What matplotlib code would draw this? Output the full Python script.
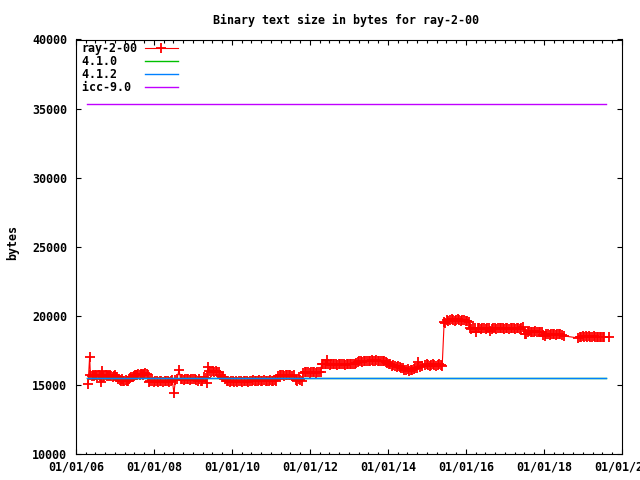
import matplotlib
matplotlib.use("Agg")
import matplotlib.pyplot as plt
import matplotlib.dates as mdates
from datetime import datetime

# commit dates (decimal years) and binary text size for ray-2-00
years = [
    2006.31, 2006.35,
    2006.37, 2006.40, 2006.43, 2006.46, 2006.49, 2006.52, 2006.55, 2006.58, 2006.61, 2006.63, 2006.65, 2006.67,
    2006.70, 2006.73, 2006.76, 2006.79, 2006.82, 2006.85, 2006.88, 2006.91, 2006.94, 2006.97, 2007.00, 2007.03, 2007.06,
    2007.09, 2007.12, 2007.15, 2007.18, 2007.21, 2007.24, 2007.27, 2007.30, 2007.33, 2007.36,
    2007.39, 2007.42, 2007.45, 2007.48, 2007.51, 2007.54, 2007.57, 2007.60, 2007.63, 2007.66, 2007.69, 2007.72,
    2007.75, 2007.78, 2007.81, 2007.84,
    2007.87, 2007.91, 2007.95, 2007.99, 2008.03, 2008.07, 2008.11, 2008.15, 2008.19, 2008.23, 2008.27, 2008.31,
    2008.35, 2008.39, 2008.43, 2008.47,
    2008.51, 2008.55, 2008.59, 2008.64, 2008.68, 2008.72, 2008.76, 2008.80, 2008.84, 2008.88, 2008.92, 2008.96,
    2009.00, 2009.04, 2009.08, 2009.12, 2009.16, 2009.20, 2009.24,
    2009.28, 2009.32, 2009.35,
    2009.39, 2009.42, 2009.46, 2009.50, 2009.54, 2009.58, 2009.62, 2009.66,
    2009.70, 2009.74, 2009.78, 2009.82, 2009.86,
    2009.90, 2009.94, 2009.98, 2010.02, 2010.06, 2010.10, 2010.14, 2010.18, 2010.22, 2010.26, 2010.30, 2010.34,
    2010.38, 2010.42, 2010.46,
    2010.50, 2010.54, 2010.58, 2010.62, 2010.66, 2010.70, 2010.74, 2010.78, 2010.82, 2010.86, 2010.90, 2010.94,
    2010.98, 2011.02, 2011.06, 2011.10, 2011.14,
    2011.18, 2011.22, 2011.26, 2011.30, 2011.34, 2011.38, 2011.42, 2011.46, 2011.50, 2011.54, 2011.58,
    2011.63, 2011.67, 2011.71, 2011.75, 2011.79,
    2011.83, 2011.87, 2011.91, 2011.95, 2011.99, 2012.03, 2012.07, 2012.11, 2012.15, 2012.19, 2012.23, 2012.27,
    2012.30, 2012.34, 2012.38, 2012.42, 2012.44, 2012.46, 2012.50, 2012.54, 2012.58, 2012.62, 2012.66, 2012.70,
    2012.74, 2012.78, 2012.82, 2012.86, 2012.90, 2012.94, 2012.98, 2013.02, 2013.06, 2013.10, 2013.14,
    2013.18, 2013.22, 2013.26, 2013.30, 2013.34, 2013.38, 2013.42, 2013.46, 2013.50, 2013.54, 2013.58, 2013.62,
    2013.66, 2013.70, 2013.74, 2013.78, 2013.82, 2013.86, 2013.90, 2013.94, 2013.98, 2014.02,
    2014.06, 2014.10, 2014.14, 2014.18, 2014.22, 2014.26, 2014.30, 2014.34,
    2014.38, 2014.42, 2014.46, 2014.50, 2014.54, 2014.58, 2014.62, 2014.66, 2014.70, 2014.74,
    2014.77, 2014.81, 2014.88, 2014.95, 2014.99, 2015.03, 2015.07, 2015.11, 2015.15, 2015.19, 2015.23, 2015.27,
    2015.31, 2015.35, 2015.39,
    2015.44, 2015.47, 2015.51, 2015.55, 2015.59, 2015.63, 2015.67, 2015.71, 2015.75, 2015.79, 2015.83, 2015.87,
    2015.91, 2015.95, 2015.99, 2016.03, 2016.07,
    2016.10, 2016.14, 2016.18, 2016.22, 2016.26, 2016.30, 2016.34, 2016.38, 2016.42, 2016.46, 2016.50, 2016.54,
    2016.58, 2016.62, 2016.66, 2016.70, 2016.74, 2016.78, 2016.82, 2016.86, 2016.90, 2016.94, 2016.98, 2017.02,
    2017.06, 2017.10, 2017.14, 2017.18, 2017.22, 2017.26, 2017.30, 2017.34, 2017.38, 2017.42, 2017.46,
    2017.50, 2017.54, 2017.58, 2017.62, 2017.66, 2017.70, 2017.74, 2017.78, 2017.82, 2017.86, 2017.90, 2017.94,
    2017.98, 2018.02, 2018.06, 2018.10, 2018.14, 2018.18, 2018.22, 2018.26, 2018.30, 2018.34, 2018.38, 2018.42,
    2018.46, 2018.50,
    2018.87, 2018.91, 2018.95, 2018.99, 2019.03, 2019.07, 2019.11, 2019.15, 2019.19, 2019.23, 2019.27, 2019.31,
    2019.35, 2019.39, 2019.43, 2019.47, 2019.51, 2019.55, 2019.67,
]
sizes = [
    15050, 17050,
    15700, 15650, 15700, 15650, 15700, 15750, 15650, 15700, 15650, 15200, 15650, 16000,
    15600, 15650, 15700, 15650, 15700, 15650, 15750, 15650, 15600, 15650, 15700, 15600, 15550,
    15450, 15350, 15300, 15400, 15250, 15300, 15350, 15250, 15300, 15400,
    15500, 15550, 15600, 15650, 15700, 15750, 15750, 15800, 15750, 15800, 15800, 15750,
    15800, 15850, 15800, 15750,
    15200, 15300, 15250, 15200, 15300, 15250, 15200, 15250, 15300, 15200, 15250, 15300,
    15250, 15200, 15300, 15350,
    14400, 15350, 15400, 16100, 15450, 15400, 15350, 15400, 15450, 15400, 15350, 15400,
    15450, 15400, 15350, 15300, 15400, 15250, 15300,
    15600, 15500, 15150,
    16300, 16000, 15950, 16000, 15900, 16000, 15950, 15900,
    15700, 15600, 15550, 15400, 15300,
    15250, 15200, 15250, 15300, 15200, 15250, 15200, 15300, 15250, 15200, 15250, 15300,
    15250, 15200, 15250,
    15300, 15350, 15300, 15250, 15300, 15350, 15300, 15300, 15350, 15300, 15250, 15300,
    15350, 15300, 15300, 15350, 15300,
    15650, 15700, 15750, 15700, 15650, 15700, 15750, 15700, 15700, 15650, 15700,
    15350, 15300, 15400, 15350, 15300,
    15850, 15900, 15950, 15900, 15850, 15900, 15950, 15900, 15850, 15900, 15950, 15900,
    16550, 16500, 16550, 16500, 16800, 16500, 16450, 16500, 16550, 16500, 16500, 16450,
    16500, 16550, 16500, 16500, 16450, 16500, 16550, 16500, 16500, 16550, 16500,
    16600, 16650, 16700, 16700, 16650, 16700, 16750, 16700, 16700, 16750, 16800, 16750,
    16750, 16800, 16750, 16700, 16750, 16700, 16700, 16650, 16600, 16550,
    16500, 16400, 16450, 16350, 16300, 16400, 16300, 16250,
    16200, 16100, 16050, 16150, 16000, 16100, 16050, 16150, 16200, 16250,
    16650, 16300, 16400, 16450, 16500, 16450, 16400, 16450, 16500, 16450, 16400, 16450,
    16500, 16450, 16400,
    19550, 19500, 19700, 19650, 19700, 19750, 19700, 19650, 19700, 19750, 19700, 19650,
    19700, 19700, 19650, 19600, 19550,
    19100, 19050, 19100, 19100, 18800, 19150, 19100, 19050, 19100, 19100, 19050, 19100,
    19150, 18900, 19050, 19100, 19100, 19050, 19100, 19150, 19100, 19100, 19050, 19100,
    19100, 19050, 19100, 19150, 19100, 19050, 19100, 19100, 19050, 19100, 19200,
    18650, 18700, 18850, 18900, 18850, 18800, 18850, 18900, 18850, 18800, 18850, 18800,
    18600, 18550, 18700, 18650, 18600, 18650, 18700, 18650, 18600, 18650, 18700, 18650,
    18600, 18550,
    18400, 18450, 18500, 18550, 18500, 18550, 18500, 18550, 18500, 18500, 18550, 18500,
    18450, 18500, 18450, 18450, 18500, 18450, 18450,
]

# compiler reference sizes, drawn over the same date span
ref_years = [2006.27, 2019.59]
gcc_410 = [15485, 15485]
gcc_412 = [15485, 15485]
icc_90 = [35310, 35310]

labels = ["ray-2-00", "4.1.0", "4.1.2", "icc-9.0"]


def year_to_date(y):
    yr = int(y)
    start = datetime(yr, 1, 1)
    end = datetime(yr + 1, 1, 1)
    return start + (end - start) * (y - yr)


dates = [year_to_date(y) for y in years]
ref_dates = [year_to_date(y) for y in ref_years]

font = {"family": "DejaVu Sans Mono", "weight": "bold", "size": 8.4}
plt.rcParams["font.family"] = "DejaVu Sans Mono"
plt.rcParams["font.weight"] = "bold"
plt.rcParams["font.size"] = 8.4

fig = plt.figure(figsize=(6.4, 4.8), dpi=100)
ax = fig.add_axes([76 / 640, 1 - 454 / 480, 546 / 640, 414.5 / 480])

# monospace font: pad labels so the right-packed legend text lines up on the left
width = max(len(l) for l in labels)
padded = [l.ljust(width) for l in labels]

ax.plot(dates, sizes, color="#ff0000", lw=0.8, marker="+", ms=6.5, mew=1.3, label=padded[0])
ax.plot(ref_dates, gcc_410, color="#00c000", lw=1.0, label=padded[1])
ax.plot(ref_dates, gcc_412, color="#0080ff", lw=1.0, label=padded[2])
ax.plot(ref_dates, icc_90, color="#c000ff", lw=1.0, label=padded[3])

ax.set_xlim(datetime(2006, 1, 1), datetime(2020, 1, 1))
ax.set_ylim(10000, 40000)
ax.set_yticks([10000, 15000, 20000, 25000, 30000, 35000, 40000])
ax.xaxis.set_major_locator(mdates.YearLocator(2))
ax.xaxis.set_minor_locator(mdates.MonthLocator(bymonth=[1, 4, 7, 10]))
ax.xaxis.set_major_formatter(mdates.DateFormatter("%m/%d/%y"))

ax.tick_params(which="both", direction="in", top=True, right=True, width=0.8, colors="black")
ax.tick_params(which="major", length=3.5)
ax.tick_params(which="minor", length=1.8)
ax.tick_params(axis="x", pad=5)
ax.tick_params(axis="y", pad=6.5)
for s in ax.spines.values():
    s.set_linewidth(0.8)

fig.text(346 / 640, 1 - 20 / 480, "Binary text size in bytes for ray-2-00",
         ha="center", va="center", fontdict=font)
fig.text(13 / 640, 1 - 243 / 480, "bytes", rotation=90, ha="center", va="center", fontdict=font)

ax.legend(loc="upper left", bbox_to_anchor=(5.7 / 546, 1 - 2.7 / 414.5), frameon=False,
          markerfirst=False, borderaxespad=0, borderpad=0, labelspacing=0,
          handlelength=2.83, handletextpad=0.6, prop=font)

fig.savefig("out.png", dpi=100)
